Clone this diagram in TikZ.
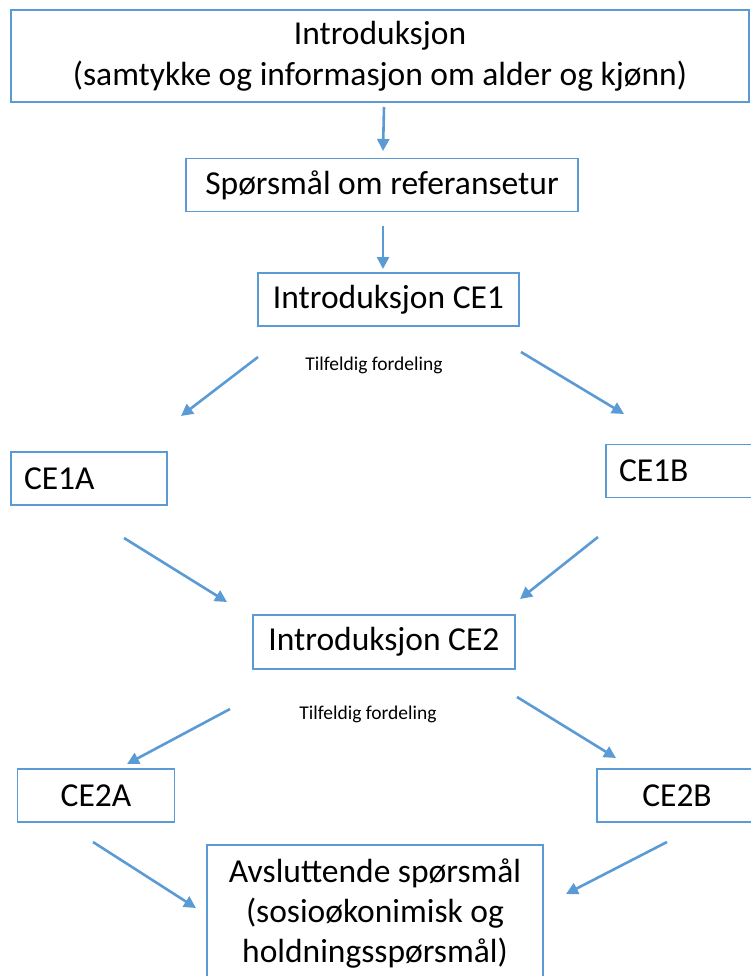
\documentclass[tikz,border=0pt]{standalone}
\usepackage{fontspec}
\setmainfont{Carlito}
\usetikzlibrary{arrows.meta}
\definecolor{bl}{HTML}{5B9BD5}
\begin{document}
\begin{tikzpicture}[x=1pt,y=-1pt,
  box/.style={draw=bl,line width=1.8pt,inner sep=0pt,align=center,font=\fontsize{33.5}{41}\selectfont},
  lbox/.style={box,align=left,inner xsep=13pt},
  small/.style={font=\fontsize{19.5}{22}\selectfont,inner sep=0pt},
  conn/.style={draw=bl,line width=2.6pt,-{Triangle[length=12pt,width=12pt]}}]
\useasboundingbox (0,0) rectangle (751,976);
\clip (0,0) rectangle (751,976);
\node[box,minimum width=738pt,minimum height=92pt] (intro) at (380,56) {Introduksjon\\(samtykke og informasjon om alder og kjønn)};
\node[box,minimum width=392pt,minimum height=53pt] (ref) at (382,185) {Spørsmål om referansetur};
\node[box,minimum width=261pt,minimum height=53pt] (ce1) at (388.5,299.5) {Introduksjon CE1};
\node[small] (tf1) at (374,365) {Tilfeldig fordeling};
\node[lbox,minimum width=156pt,minimum height=53pt,text width=130pt] (ce1a) at (89,478.5) {CE1A};
\node[lbox,minimum width=164pt,minimum height=53pt,text width=138pt] (ce1b) at (688,471) {CE1B};
\node[box,minimum width=262pt,minimum height=54pt] (ce2) at (384,642) {Introduksjon CE2};
\node[small] (tf2) at (368,714) {Tilfeldig fordeling};
\node[box,minimum width=157pt,minimum height=53pt] (ce2a) at (96,795.5) {CE2A};
\node[box,minimum width=160pt,minimum height=53pt] (ce2b) at (677,795.5) {CE2B};
\node[box,minimum width=336pt,minimum height=136pt,font=\fontsize{33.5}{40}\selectfont] (avs) at (375,913) {Avsluttende spørsmål\\(sosioøkonimisk og\\holdningsspørsmål)};
% connector end points
\coordinate (a1s) at (384,107); \coordinate (a1e) at (383,151);
\coordinate (a2s) at (383,226); \coordinate (a2e) at (383,269);
\coordinate (a3s) at (258,357); \coordinate (a3e) at (181,416);
\coordinate (a4s) at (521,352); \coordinate (a4e) at (624,414);
\coordinate (a5s) at (124,538); \coordinate (a5e) at (227,602);
\coordinate (a6s) at (598,537); \coordinate (a6e) at (520,599);
\coordinate (a7s) at (230,709); \coordinate (a7e) at (127,764);
\coordinate (a8s) at (517,697); \coordinate (a8e) at (616,758);
\coordinate (a9s) at (93,842); \coordinate (a9e) at (196,908);
\coordinate (a10s) at (667,842); \coordinate (a10e) at (566,894);
\draw[conn] (a1s) -- (a1e);
\draw[conn] (a2s) -- (a2e);
\draw[conn] (a3s) -- (a3e);
\draw[conn] (a4s) -- (a4e);
\draw[conn] (a5s) -- (a5e);
\draw[conn] (a6s) -- (a6e);
\draw[conn] (a7s) -- (a7e);
\draw[conn] (a8s) -- (a8e);
\draw[conn] (a9s) -- (a9e);
\draw[conn] (a10s) -- (a10e);
\end{tikzpicture}
\end{document}
